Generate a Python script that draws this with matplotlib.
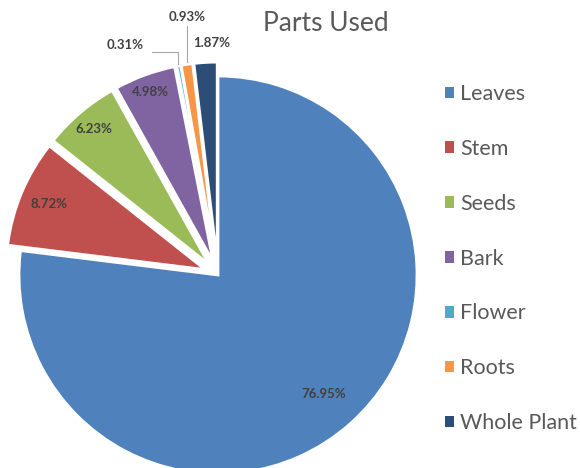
import numpy as np
import matplotlib.pyplot as plt
from matplotlib.patches import Patch

# datos
parts = ["Leaves", "Stem", "Seeds", "Bark", "Flower", "Roots", "Whole Plant"]
pct = [76.95, 8.72, 6.23, 4.98, 0.31, 0.93, 1.87]
colors = ["#4F81BD", "#C0504D", "#9BBB59", "#8064A2", "#4BACC6", "#F79646", "#2C4D75"]
explode = [0, 0.07, 0.07, 0.07, 0.07, 0.07, 0.07]

plt.rcParams['font.family'] = ['Lato', 'DejaVu Sans']
txt = "#404040"
fs = 9.5

fig = plt.figure(figsize=(5.8, 4.68), dpi=100)
ax = fig.add_axes([0, 0, 1, 1])

wedges, _ = ax.pie(pct, colors=colors, explode=explode, startangle=90,
                   counterclock=False,
                   wedgeprops=dict(edgecolor="white", linewidth=2))

ax.set_xlim(-1.0955, 1.819)
ax.set_ylim(-0.970, 1.382)
ax.set_aspect('auto')
ax.axis('off')

# etiquetas dentro de las porciones grandes
rdist = {0: 0.80, 1: 0.92, 2: 0.96, 3: 0.98}
for i, w in enumerate(wedges):
    mid = np.deg2rad((w.theta1 + w.theta2) / 2)
    lab = "%.2f%%" % pct[i]
    if i in rdist:
        r = rdist[i]
        ax.text(r * np.cos(mid), r * np.sin(mid), lab, ha="center", va="center",
                fontsize=fs, fontweight="bold", color=txt)

# porciones pequeñas: etiquetas afuera
def tip(i, r=1.08):
    w = wedges[i]
    mid = np.deg2rad((w.theta1 + w.theta2) / 2)
    return r * np.cos(mid), r * np.sin(mid)

# Whole Plant
ax.text(-0.03, 1.166, "%.2f%%" % pct[6], ha="center", va="center",
        fontsize=fs, fontweight="bold", color=txt)
# Roots
x0, y0 = tip(5)
ax.plot([x0, x0], [y0, 1.25], color="#A6A6A6", lw=0.8)
ax.text(x0 + 0.005, 1.296, "%.2f%%" % pct[5], ha="center", va="center",
        fontsize=fs, fontweight="bold", color=txt)
# Flower
x0, y0 = tip(4)
ax.plot([x0, x0, -0.33], [y0, 1.12, 1.12], color="#A6A6A6", lw=0.8)
ax.text(-0.467, 1.156, "%.2f%%" % pct[4], ha="center", va="center",
        fontsize=fs, fontweight="bold", color=txt)

# titulo
fig.text(0.562, 0.95, "Parts Used", ha="center", va="center",
         fontsize=19, color="#595959")

# leyenda
handles = [Patch(facecolor=c, edgecolor="none") for c in colors]
fig.legend(handles, parts, loc="upper left", bbox_to_anchor=(0.752, 0.839),
           frameon=False, fontsize=15.5, labelcolor="#595959",
           handlelength=0.45, handleheight=0.45, handletextpad=0.25,
           labelspacing=1.62, borderaxespad=0)

fig.savefig("out.png", dpi=100)
